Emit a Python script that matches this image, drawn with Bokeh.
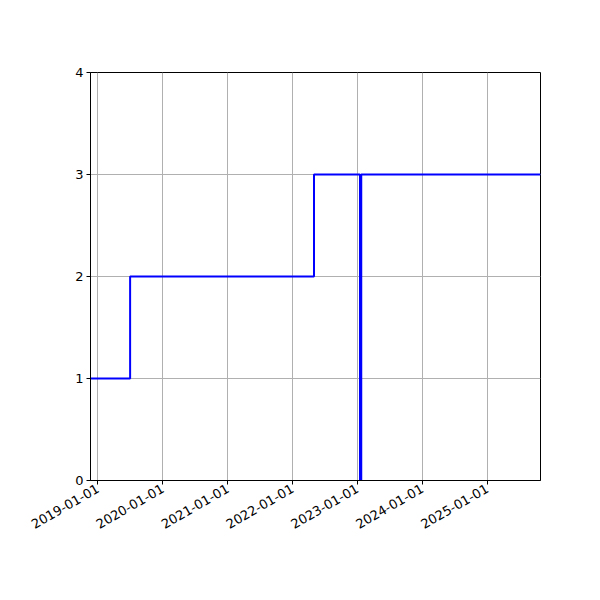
import math
from datetime import datetime
from bokeh.plotting import figure
from bokeh.models import FixedTicker, DatetimeTickFormatter, Range1d
from bokeh.embed import file_html
from bokeh.resources import INLINE

# Data (step values, post-step)
dates = ["2018-11-20", "2019-07-01", "2022-05-01", "2023-01-15", "2023-01-22", "2025-10-27"]
values = [1, 2, 3, 0, 3, 3]
tick_dates = ["2019-01-01", "2020-01-01", "2021-01-01", "2022-01-01",
              "2023-01-01", "2024-01-01", "2025-01-01"]
y_ticks = [0, 1, 2, 3, 4]

def to_ms(s):
    return (datetime.strptime(s, "%Y-%m-%d") - datetime(1970, 1, 1)).total_seconds() * 1000.0

xs = [datetime.strptime(d, "%Y-%m-%d") for d in dates]
x_ms = [to_ms(d) for d in dates]

p = figure(width=592, height=592, x_axis_type="datetime",
           output_backend="svg", toolbar_location=None,
           x_range=Range1d(x_ms[0], x_ms[-1]), y_range=Range1d(0, 4),
           min_border_left=90, min_border_right=52, min_border_top=72, min_border_bottom=112)

p.step(xs, values, mode="after", line_color="#0000ff", line_width=2)

p.xaxis.ticker = FixedTicker(ticks=[to_ms(d) for d in tick_dates])
fmt = "%Y-%m-%d"
p.xaxis.formatter = DatetimeTickFormatter(years=fmt, months=fmt, days=fmt, hours=fmt,
                                          minutes=fmt, seconds=fmt, milliseconds=fmt,
                                          microseconds=fmt, hourmin=fmt, minsec=fmt)
p.xaxis.major_label_orientation = math.pi / 6
p.yaxis.ticker = FixedTicker(ticks=y_ticks)

for ax in (p.xaxis[0], p.yaxis[0]):
    ax.major_label_text_font = "DejaVu Sans"
    ax.major_label_text_font_size = "13px"
    ax.major_label_text_color = "black"
    ax.axis_line_color = "black"
    ax.major_tick_line_color = "black"
    ax.major_tick_in = 0
    ax.major_tick_out = 4
    ax.minor_tick_line_color = None
    ax.major_label_standoff = 3

p.grid.grid_line_color = "#b0b0b0"
p.grid.grid_line_width = 1
p.outline_line_color = "black"
p.outline_line_width = 1
p.outline_line_alpha = 1

open("out.html", "w").write(file_html(p, INLINE))
